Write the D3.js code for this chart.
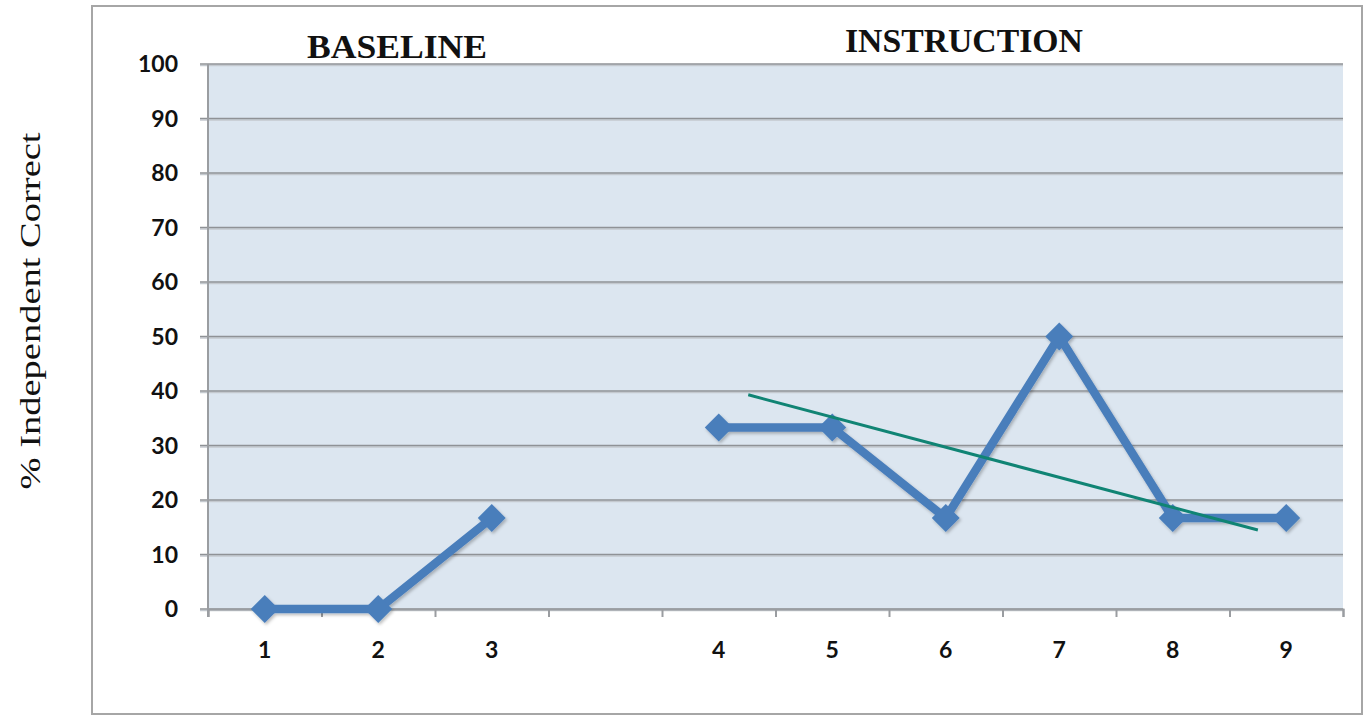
<!DOCTYPE html>
<html>
<head>
<meta charset="utf-8">
<script src="https://cdn.jsdelivr.net/npm/d3@7"></script>
<style>
  html, body { margin: 0; padding: 0; background: #ffffff; }
  svg { display: block; }
</style>
</head>
<body>
<svg id="chart" width="1364" height="716"></svg>
<script>
// Session labels along the x axis; the empty slot separates the two phases.
const sessionLabels = ["1", "2", "3", "", "4", "5", "6", "7", "8", "9"];
// Percent independent correct per session (null = no session in the gap).
const percentCorrect = [0, 0, 16.7, null, 33.3, 33.3, 16.7, 50, 16.7, 16.7];
// Linear trend over the instruction phase: slot positions and values at the ends.
const trendSlots = [4.26, 8.75];
const trendValues = [39.3, 14.5];
// Y axis ticks.
const yTicks = [0, 10, 20, 30, 40, 50, 60, 70, 80, 90, 100];
// Phase headings.
const phases = [
  { name: "BASELINE", slot: 1.665, baseline: 58, width: 180 },
  { name: "INSTRUCTION", slot: 6.66, baseline: 52, width: 238 }
];

const svg = d3.select("#chart");
const plot = { left: 208, right: 1343, top: 64, bottom: 609 };

const x = d3.scaleLinear().domain([0, sessionLabels.length]).range([plot.left, plot.right]);
const y = d3.scaleLinear().domain([0, 100]).range([plot.bottom, plot.top]);

// Outer chart frame
svg.append("rect")
  .attr("x", 92).attr("y", 6)
  .attr("width", 1270).attr("height", 708)
  .attr("fill", "none")
  .attr("stroke", "#a6a6a6")
  .attr("stroke-width", 2);

// Plot area background
svg.append("rect")
  .attr("x", plot.left).attr("y", plot.top)
  .attr("width", plot.right - plot.left)
  .attr("height", plot.bottom - plot.top)
  .attr("fill", "#dce6f0");

const defs = svg.append("defs");
const shadow = defs.append("filter").attr("id", "soft-shadow")
  .attr("x", "-20%").attr("y", "-20%").attr("width", "140%").attr("height", "140%");
shadow.append("feDropShadow")
  .attr("dx", 1.5).attr("dy", 2).attr("stdDeviation", 1.8)
  .attr("flood-color", "#000").attr("flood-opacity", 0.25);

// Horizontal gridlines with tick stubs to the left
const grid = svg.append("g");
grid.selectAll("line.shade")
  .data(yTicks)
  .join("line")
  .attr("x1", plot.left - 8).attr("x2", plot.right)
  .attr("y1", d => y(d) + 1.5).attr("y2", d => y(d) + 1.5)
  .attr("stroke", "#c4c9cf").attr("stroke-width", 1.5);
grid.selectAll("line.major")
  .data(yTicks)
  .join("line")
  .attr("x1", plot.left - 8).attr("x2", plot.right)
  .attr("y1", d => y(d)).attr("y2", d => y(d))
  .attr("stroke", "#8f9296").attr("stroke-width", 1.6);

// Y axis line
svg.append("line")
  .attr("x1", plot.left).attr("x2", plot.left)
  .attr("y1", plot.top).attr("y2", plot.bottom + 8)
  .attr("stroke", "#9a9da1").attr("stroke-width", 2);

// X axis tick marks at slot boundaries
const xAxis = d3.axisBottom(x)
  .tickValues(d3.range(0, sessionLabels.length + 1))
  .tickSize(8)
  .tickFormat("");
const xg = svg.append("g")
  .attr("transform", `translate(0,${plot.bottom})`)
  .call(xAxis);
xg.select(".domain").attr("stroke", "#9a9da1").attr("stroke-width", 2);
xg.selectAll(".tick line").attr("stroke", "#9a9da1").attr("stroke-width", 2);

// Y tick labels
svg.append("g").selectAll("text")
  .data(yTicks)
  .join("text")
  .attr("x", 178)
  .attr("y", d => y(d))
  .attr("dy", "0.36em")
  .attr("text-anchor", "end")
  .attr("font-family", "Lato, 'Open Sans', sans-serif")
  .attr("font-weight", 700)
  .attr("font-size", 23)
  .attr("fill", "#111")
  .text(d => d);

// X tick labels centred in each slot
svg.append("g").selectAll("text")
  .data(sessionLabels)
  .join("text")
  .attr("x", (d, i) => x(i + 0.5))
  .attr("y", 650)
  .attr("dy", "0.36em")
  .attr("text-anchor", "middle")
  .attr("font-family", "Lato, 'Open Sans', sans-serif")
  .attr("font-weight", 700)
  .attr("font-size", 23)
  .attr("fill", "#111")
  .text(d => d);

// Y axis title
svg.append("text")
  .attr("transform", "translate(40,311) rotate(-90)")
  .attr("text-anchor", "middle")
  .attr("font-family", "'Liberation Serif', 'DejaVu Serif', serif")
  .attr("font-size", 30)
  .attr("textLength", 357)
  .attr("lengthAdjust", "spacingAndGlyphs")
  .attr("fill", "#111")
  .text("% Independent Correct");

// Phase headings
svg.append("g").selectAll("text")
  .data(phases)
  .join("text")
  .attr("x", d => x(d.slot))
  .attr("y", d => d.baseline)
  .attr("text-anchor", "middle")
  .attr("font-family", "'Liberation Serif', 'DejaVu Serif', serif")
  .attr("font-weight", 700)
  .attr("font-size", 34)
  .attr("textLength", d => d.width)
  .attr("lengthAdjust", "spacingAndGlyphs")
  .attr("fill", "#111")
  .text(d => d.name);

// Data series
const points = percentCorrect.map((v, i) => ({ i, v }));
const line = d3.line()
  .defined(d => d.v !== null)
  .x(d => x(d.i + 0.5))
  .y(d => y(d.v));

const series = svg.append("g").attr("filter", "url(#soft-shadow)");
series.append("path")
  .datum(points)
  .attr("d", line)
  .attr("fill", "none")
  .attr("stroke", "#4a7ebb")
  .attr("stroke-width", 8.5)
  .attr("stroke-linejoin", "miter");

const diamond = d3.symbol().type(d3.symbolSquare).size(390);
series.selectAll("path.marker")
  .data(points.filter(d => d.v !== null))
  .join("path")
  .attr("class", "marker")
  .attr("d", diamond)
  .attr("transform", d => `translate(${x(d.i + 0.5)},${y(d.v)}) rotate(45)`)
  .attr("fill", "#4a7ebb");

// Trend line for the instruction phase
svg.append("line")
  .attr("x1", x(trendSlots[0] + 0.5)).attr("y1", y(trendValues[0]))
  .attr("x2", x(trendSlots[1] + 0.5)).attr("y2", y(trendValues[1]))
  .attr("stroke", "#108474")
  .attr("stroke-width", 3);
</script>
</body>
</html>
